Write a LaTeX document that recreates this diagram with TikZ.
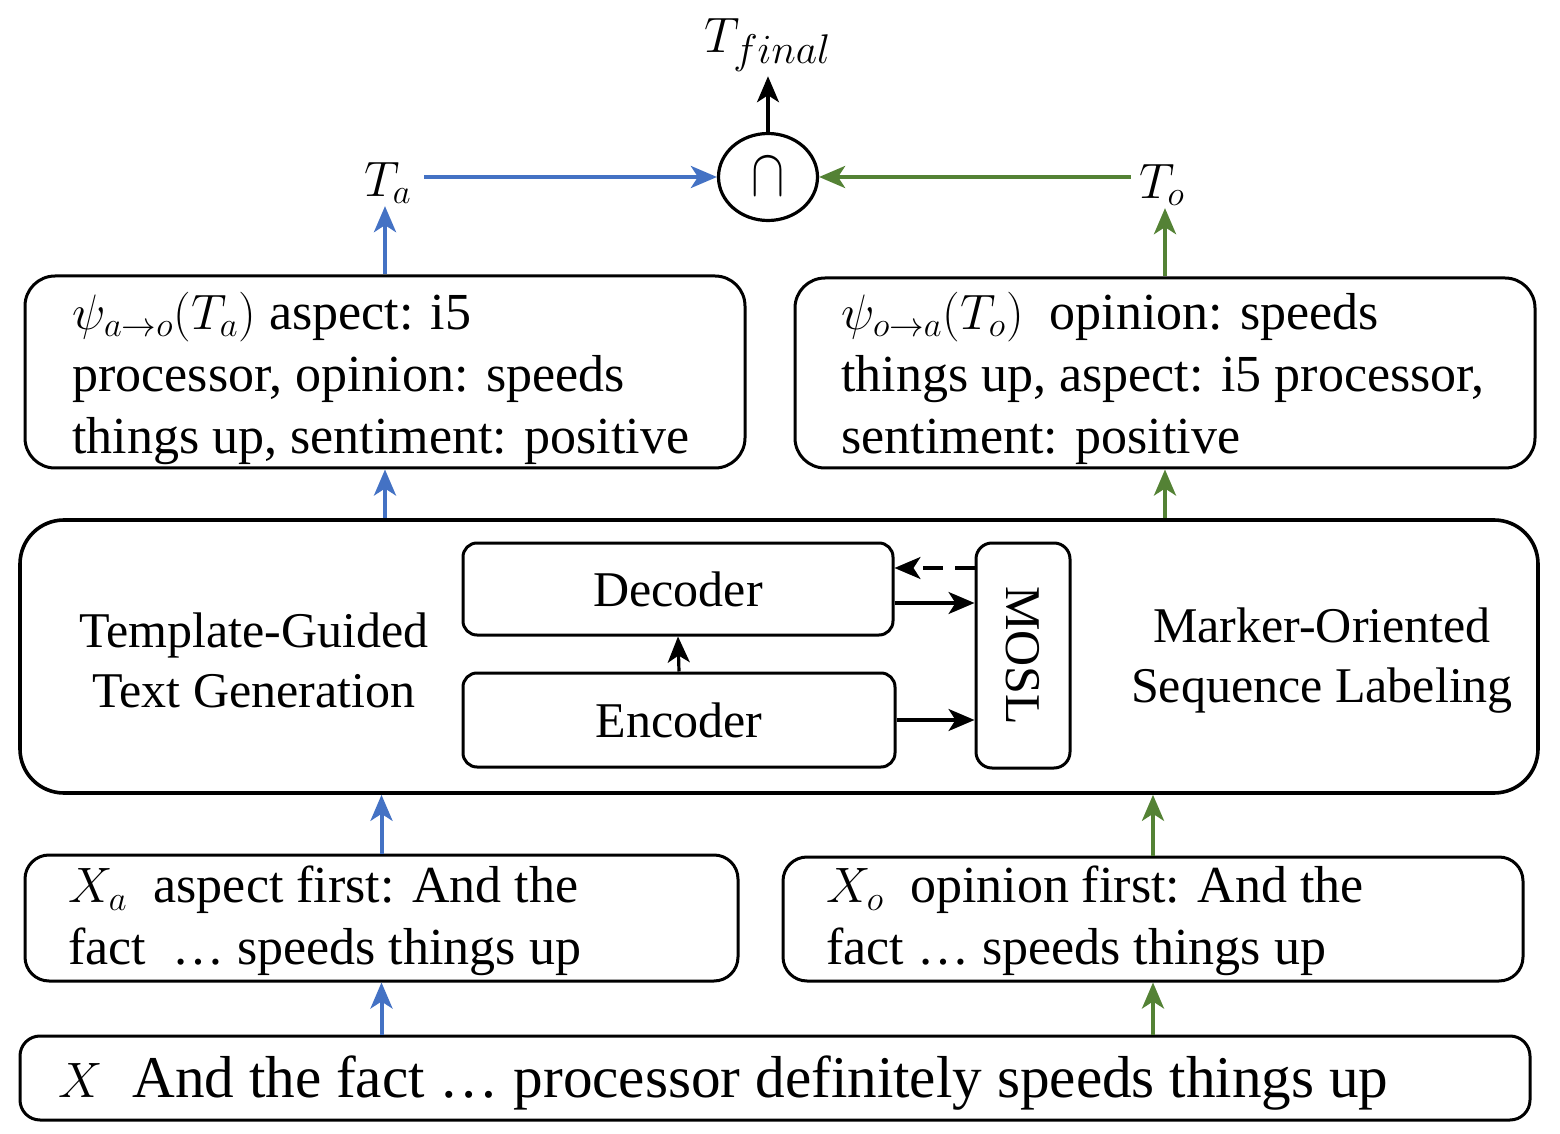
\documentclass[tikz,border=0pt]{standalone}
\usepackage{fontspec}
\setmainfont{Liberation Serif}
\usetikzlibrary{arrows.meta,shapes.geometric}
\definecolor{myblue}{HTML}{4472C4}
\definecolor{mygreen}{HTML}{548235}
\begin{document}
\begin{tikzpicture}[x=0.5pt,y=-0.5pt,
  box/.style={draw=black, line width=1.5pt, rounded corners=#1, inner sep=0pt},
  box/.default=14pt,
  tip/.style={-{Stealth[length=13pt,width=11pt,inset=3.5pt]}},
  barrow/.style={tip, draw=myblue, line width=2pt},
  garrow/.style={tip, draw=mygreen, line width=2pt},
  karrow/.style={tip, draw=black, line width=1.6pt},
  bigtxt/.style={font=\fontsize{29.6}{36}\selectfont, inner sep=0pt},
  txt/.style={font=\fontsize{26}{31}\selectfont, inner sep=0pt, align=left},
  midtxt/.style={font=\fontsize{25}{30}\selectfont, inner sep=0pt, align=center},
  mathlbl/.style={font=\fontsize{26}{31}\selectfont, inner sep=1pt},
]
\useasboundingbox (0,0) rectangle (1560,1134);

% top boxes
\node[box=15pt, minimum width=360pt, minimum height=96pt] (tl) at (385,372) {};
\node[txt, anchor=west] (tlt) at (72,378) {$\psi_{a\to o}(T_a)$ aspect: i5\\processor, opinion: speeds\\things up, sentiment: positive};
\node[box=15pt, minimum width=370pt, minimum height=95pt] (tr) at (1165,373) {};
\node[txt, anchor=west] (trt) at (841,378) {$\psi_{o\to a}(T_o)$\ \ opinion: speeds\\things up, aspect: i5 processor,\\sentiment: positive};

% middle box
\node[box=22pt, line width=1.8pt, minimum width=759pt, minimum height=136.5pt] (mid) at (779,656.5) {};
\node[midtxt] (tg) at (254,660) {Template-Guided\\Text Generation};
\node[midtxt] (mo) at (1322,661) {Marker-Oriented\\Sequence Labeling};
\node[box=7pt, minimum width=215pt, minimum height=46pt, midtxt] (dec) at (678,589) {Decoder};
\node[box=7pt, minimum width=216pt, minimum height=47pt, midtxt] (enc) at (679,720) {Encoder};
\node[box=8pt, minimum width=47pt, minimum height=112.5pt] (mosl) at (1023,655.5) {};
\node[midtxt, rotate=-90] (moslt) at (mosl) {MOSL};

% input boxes
\node[box=12pt, minimum width=356.5pt, minimum height=63pt] (xa) at (381.5,918) {};
\node[txt, anchor=west] (xat) at (68,921) {$X_a$\ \ aspect first: And the\\fact\ \ … speeds things up};
\node[box=12pt, minimum width=370pt, minimum height=62pt] (xo) at (1153,919) {};
\node[txt, anchor=west] (xot) at (826,921) {$X_o$\ \ opinion first: And the\\fact … speeds things up};
\node[box=10pt, minimum width=755pt, minimum height=42pt] (xbox) at (775,1078) {};
\node[bigtxt, anchor=west] (xt) at (58,1083) {$X$\ \ And the fact … processor definitely speeds things up};

% top labels and intersection
\node[mathlbl] (ta) at (388,183) {$T_a$};
\node[mathlbl] (to) at (1162,185) {$T_o$};
\node[draw, ellipse, line width=1.6pt, minimum width=49.5pt, minimum height=43.5pt, inner sep=0pt] (cap) at (768,177)
  {\fontsize{30}{30}\selectfont\scalebox{1}[1.35]{$\cap$}};
\node[mathlbl, inner sep=2pt, font=\fontsize{28}{32}\selectfont] (tf) at (768,45) {$T_{final}$};

% connectors
\draw[karrow] (cap.north) -- (tf.south);
\draw[barrow, shorten <=5pt] (ta.east |- cap.west) -- (cap.west);
\draw[garrow, shorten <=3pt] (to.west |- cap.east) -- (cap.east);
\draw[barrow] (tl.north) -- (tl.north |- ta.south);
\draw[garrow] (tr.north) -- (tr.north |- to.south);
\draw[barrow] (mid.north -| tl.south) -- (tl.south);
\draw[garrow] (mid.north -| tr.south) -- (tr.south);
\draw[barrow] (xa.north) -- (xa.north |- mid.south);
\draw[garrow] (xo.north) -- (xo.north |- mid.south);
\draw[barrow] (xbox.north -| xa.south) -- (xa.south);
\draw[garrow] (xbox.north -| xo.south) -- (xo.south);
\draw[karrow] (enc.north) -- (dec.south);
\coordinate (dd) at ([yshift=10.5pt]dec.east);
\coordinate (ds) at ([yshift=-7pt]dec.east);
\draw[karrow, dash pattern=on 10pt off 6pt] (dd -| mosl.west) -- (dd);
\draw[karrow] (ds) -- (ds -| mosl.west);
\draw[karrow] (enc.east) -- (enc.east -| mosl.west);
\end{tikzpicture}
\end{document}
